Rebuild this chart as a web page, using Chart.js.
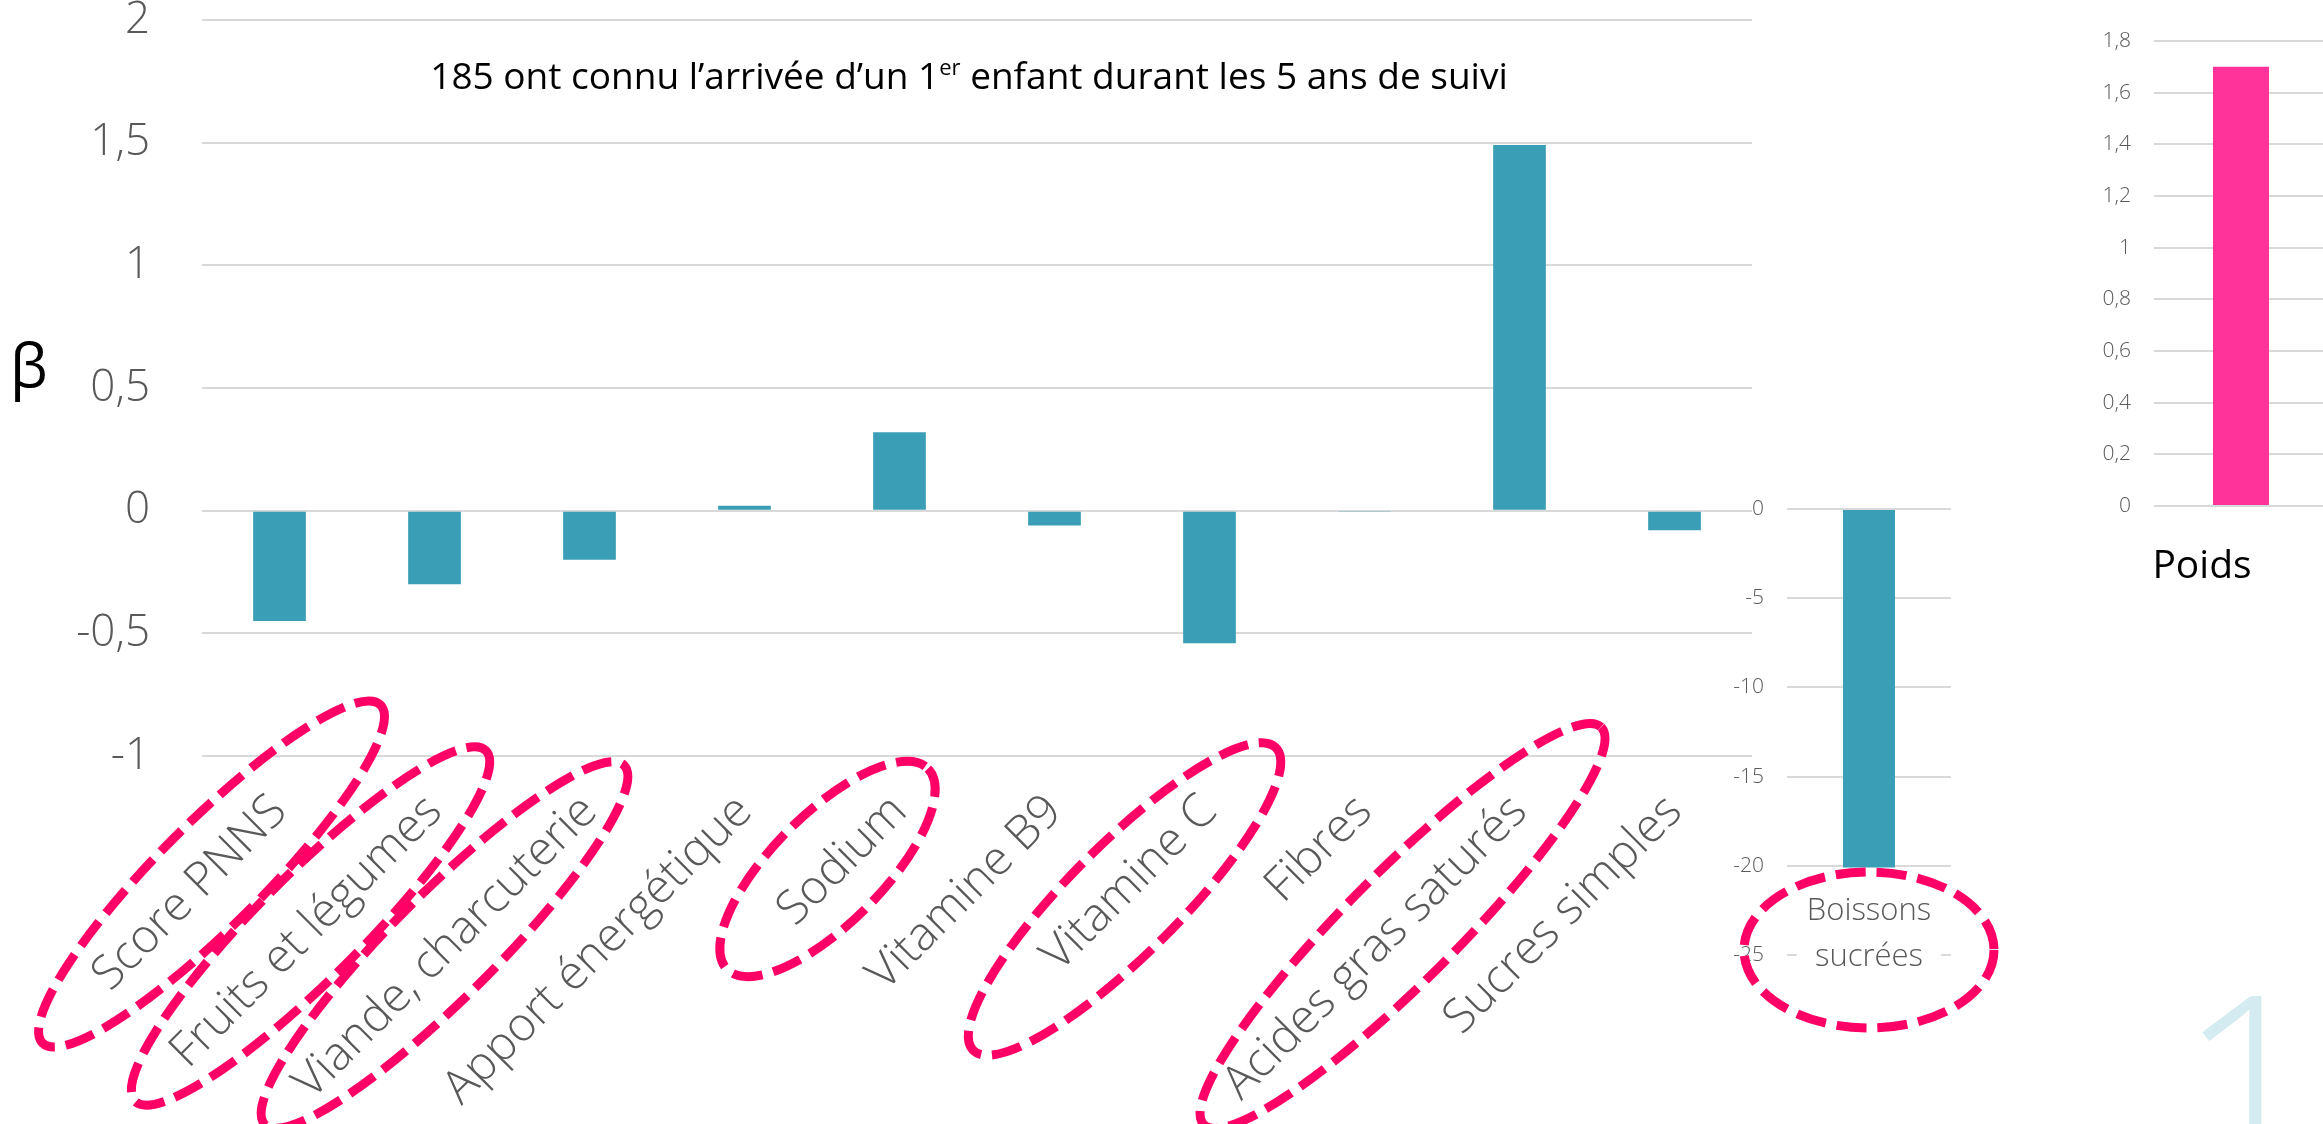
<!DOCTYPE html>
<html>
<head>
<meta charset="utf-8">
<script src="https://cdn.jsdelivr.net/npm/chart.js@4.4.1/dist/chart.umd.min.js"></script>
<style>
	html, body { margin: 0; padding: 0; background: #fff; overflow: hidden; width: 2323px; height: 1124px; position: relative; }
	canvas { position: absolute; }
	#mainChart     { left: 0;      top: -60px; }
	#boissonsChart { left: 1700px; top: 469px; }
	#poidsChart    { left: 2000px; top: 0; }
	#slideNum {
		position: absolute; left: 2178px; top: 952px;
		font: 300 250px 'Open Sans', sans-serif; line-height: 1; color: #D3EBF1;
	}
</style>
</head>
<body>
<canvas id="mainChart" width="1760" height="1184"></canvas>
<canvas id="boissonsChart" width="300" height="655"></canvas>
<canvas id="poidsChart" width="330" height="620"></canvas>
<div id="slideNum">1</div>

<script>
// ── données ──
const categories = ['Score PNNS', 'Fruits et légumes', 'Viande, charcuterie', 'Apport énergétique', 'Sodium',
	'Vitamine B9', 'Vitamine C', 'Fibres', 'Acides gras saturés', 'Sucres simples'];
const betaValues = [-0.45, -0.30, -0.20, 0.02, 0.32, -0.06, -0.54, -0.005, 1.49, -0.08];

const boissonsLabels = [['Boissons', 'sucrées']];
const boissonsValues = [-20.1];

const poidsLabels = ['Poids'];
const poidsValues = [1.70];

const titleBefore = '185 ont connu l’arrivée d’un 1';
const titleSup    = 'er';
const titleAfter  = ' enfant durant les 5 ans de suivi';
const axisSymbol  = 'β';

// catégories entourées (annotation)
const highlighted = ['Score PNNS', 'Fruits et légumes', 'Viande, charcuterie', 'Sodium', 'Vitamine C', 'Acides gras saturés'];

// ── style ──
const FONT  = "'Open Sans', 'DejaVu Sans', sans-serif";
const TEAL  = '#3A9FB6';
const PINK  = '#FF3399';
const GREY  = '#595959';
const GRID  = '#D9D9D9';
const RING  = '#FF0066';

// géométrie des ellipses en pointillés, relative au tick et au bas de la zone de tracé
const ringShapes = {
	'Score PNNS':          { dx: -68,  dy: 118, a: 239, b: 52 },
	'Fruits et légumes':   { dx: -124, dy: 170, a: 248, b: 52 },
	'Viande, charcuterie': { dx: -145, dy: 189, a: 254, b: 52 },
	'Sodium':              { dx: -72,  dy: 113, a: 142, b: 55 },
	'Vitamine C':          { dx: -85,  dy: 143, a: 214, b: 55 },
	'Acides gras saturés': { dx: -117, dy: 170, a: 281, b: 55 },
};
const boissonsRing = { dx: 0, dy: -5, a: 125, b: 78 };

const fmt = v => String(Math.round(v * 100) / 100).replace('.', ',');

function strokeRing(ctx, x, y, a, b, rot) {
	ctx.save();
	ctx.strokeStyle = RING;
	ctx.lineWidth = 9;
	ctx.setLineDash([30, 11]);
	ctx.beginPath();
	ctx.ellipse(x, y, a, b, rot, 0, Math.PI * 2);
	ctx.stroke();
	ctx.restore();
}

// ─── ellipses + titre + β sur le graphique principal ───
const mainDecor = {
	id: 'mainDecor',
	afterDraw(chart) {
		const { ctx, chartArea, scales } = chart;

		highlighted.forEach(name => {
			const s = ringShapes[name];
			const x = scales.x.getPixelForValue(categories.indexOf(name));
			strokeRing(ctx, x + s.dx, chartArea.bottom + s.dy, s.a, s.b, -Math.PI / 4);
		});

		// titre avec exposant
		ctx.save();
		ctx.fillStyle = '#000';
		ctx.textBaseline = 'alphabetic';
		ctx.textAlign = 'left';
		const big = `400 37px ${FONT}`;
		const small = `400 22px ${FONT}`;
		ctx.font = big;
		const w1 = ctx.measureText(titleBefore).width;
		const w3 = ctx.measureText(titleAfter).width;
		ctx.font = small;
		const w2 = ctx.measureText(titleSup).width;
		let x = (chartArea.left + chartArea.right) / 2 - 8 - (w1 + w2 + w3) / 2;
		const y = chartArea.top + 69;
		ctx.font = big;   ctx.fillText(titleBefore, x, y); x += w1;
		ctx.font = small; ctx.fillText(titleSup, x, y - 14); x += w2;
		ctx.font = big;   ctx.fillText(titleAfter, x, y);

		// β
		ctx.font = `400 60px ${FONT}`;
		ctx.fillText(axisSymbol, 10, scales.y.getPixelForValue(0.5) - 1);
		ctx.restore();
	}
};

// ─── libellé « Boissons sucrées » posé sur la zone de tracé + ellipse ───
const boissonsDecor = {
	id: 'boissonsDecor',
	beforeDatasetsDraw(chart) {
		const { ctx, chartArea, scales } = chart;
		const x = scales.x.getPixelForValue(0);
		const lines = boissonsLabels[0];
		ctx.save();
		ctx.font = `300 31px ${FONT}`;
		const w = Math.max(...lines.map(l => ctx.measureText(l).width));
		ctx.fillStyle = '#fff';
		ctx.fillRect(x - w / 2 - 10, chartArea.bottom - 71, w + 20, 94);
		ctx.fillStyle = GREY;
		ctx.textAlign = 'center';
		ctx.textBaseline = 'middle';
		lines.forEach((l, i) => ctx.fillText(l, x, chartArea.bottom - 44 + i * 46));
		ctx.restore();
	},
	afterDraw(chart) {
		const { ctx, chartArea, scales } = chart;
		const x = scales.x.getPixelForValue(0);
		strokeRing(ctx, x + boissonsRing.dx, chartArea.bottom + boissonsRing.dy, boissonsRing.a, boissonsRing.b, 0);
	}
};

function init() {
	Chart.defaults.font.family = FONT;

	new Chart(document.getElementById('mainChart'), {
		type: 'bar',
		data: {
			labels: categories,
			datasets: [{ data: betaValues, backgroundColor: TEAL, barPercentage: 0.34, categoryPercentage: 1 }]
		},
		options: {
			responsive: false, animation: false, devicePixelRatio: 1,
			layout: { autoPadding: false, padding: { top: 80, right: 8, left: 0, bottom: 0 } },
			plugins: { legend: { display: false }, tooltip: { enabled: false } },
			scales: {
				x: {
					grid: { display: false, drawTicks: false },
					border: { display: false },
					ticks: {
						color: GREY, font: { size: 47, weight: 300 },
						minRotation: 45, maxRotation: 45, autoSkip: false, padding: 28
					},
					afterFit(s) { s.height = 368; }
				},
				y: {
					min: -1, max: 2,
					grid: { color: GRID, lineWidth: 2, drawTicks: false },
					border: { display: false },
					ticks: { stepSize: 0.5, color: GREY, font: { size: 44, weight: 300 }, padding: 52, callback: fmt },
					afterFit(s) { s.width = 202; }
				}
			}
		},
		plugins: [mainDecor]
	});

	new Chart(document.getElementById('boissonsChart'), {
		type: 'bar',
		data: {
			labels: boissonsLabels,
			datasets: [{ data: boissonsValues, backgroundColor: TEAL, barPercentage: 0.317, categoryPercentage: 1 }]
		},
		options: {
			responsive: false, animation: false, devicePixelRatio: 1,
			layout: { autoPadding: false, padding: { top: 40, right: 49, left: 0, bottom: 0 } },
			plugins: { legend: { display: false }, tooltip: { enabled: false } },
			scales: {
				x: {
					grid: { display: false, drawTicks: false },
					border: { display: false },
					ticks: { display: false },
					afterFit(s) { s.height = 169; }
				},
				y: {
					min: -25, max: 0,
					grid: { color: GRID, lineWidth: 2, drawTicks: false },
					border: { display: false },
					ticks: { stepSize: 5, color: GREY, font: { size: 21, weight: 300 }, padding: 23, callback: fmt },
					afterFit(s) { s.width = 87; }
				}
			}
		},
		plugins: [boissonsDecor]
	});

	new Chart(document.getElementById('poidsChart'), {
		type: 'bar',
		data: {
			labels: poidsLabels,
			datasets: [{ data: poidsValues, backgroundColor: PINK, barPercentage: 0.322, categoryPercentage: 1 }]
		},
		options: {
			responsive: false, animation: false, devicePixelRatio: 1,
			layout: { autoPadding: false, padding: { top: 41, right: 2, left: 0, bottom: 0 } },
			plugins: { legend: { display: false }, tooltip: { enabled: false } },
			scales: {
				x: {
					grid: { display: false, drawTicks: false },
					border: { display: false },
					ticks: { color: '#000', font: { size: 39, weight: 400 }, padding: 37, labelOffset: -39, maxRotation: 0 },
					afterFit(s) { s.height = 114; }
				},
				y: {
					min: 0, max: 1.8,
					grid: { color: GRID, lineWidth: 2, drawTicks: false },
					border: { display: false },
					ticks: { stepSize: 0.2, color: GREY, font: { size: 21, weight: 300 }, padding: 23, callback: fmt },
					afterFit(s) { s.width = 154; }
				}
			}
		}
	});
}

Promise.all([
	document.fonts.load(`300 40px 'Open Sans'`),
	document.fonts.load(`400 40px 'Open Sans'`)
]).catch(() => {}).then(init);
</script>
</body>
</html>
